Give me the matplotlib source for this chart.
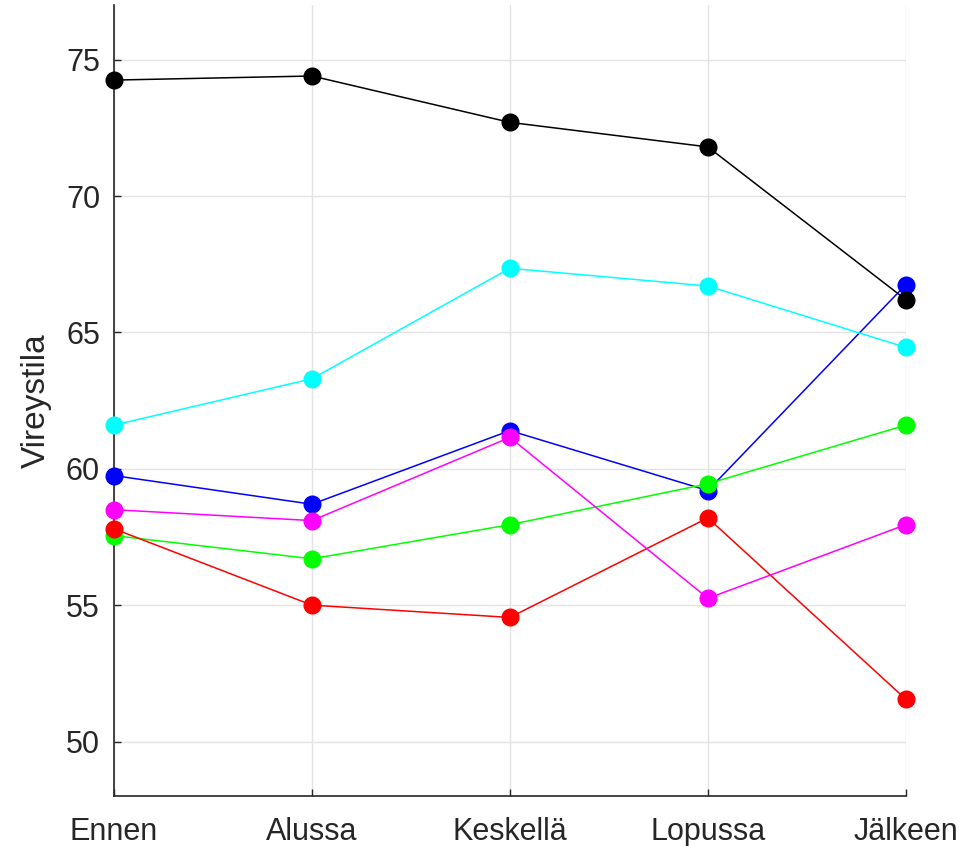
import matplotlib
matplotlib.use("Agg")
import matplotlib.pyplot as plt

# Measurement phases and alertness scores per group
phases = ["Ennen", "Alussa", "Keskellä", "Lopussa", "Jälkeen"]
blue_vals = [59.75, 58.7, 61.4, 59.2, 66.75]
green_vals = [57.55, 56.7, 57.95, 59.45, 61.6]
red_vals = [57.8, 55.0, 54.55, 58.2, 51.55]
cyan_vals = [61.6, 63.3, 67.35, 66.7, 64.45]
magenta_vals = [58.5, 58.1, 61.15, 55.25, 57.95]
black_vals = [74.25, 74.4, 72.7, 71.8, 66.2]

series = [
    (blue_vals, "#0000ff"),
    (green_vals, "#00ff00"),
    (red_vals, "#ff0000"),
    (cyan_vals, "#00ffff"),
    (magenta_vals, "#ff00ff"),
    (black_vals, "#000000"),
]

plt.rcParams["font.family"] = ["Liberation Sans", "DejaVu Sans"]

fig = plt.figure(figsize=(9.74, 8.46), dpi=100)
ax = fig.add_axes([0.117, 0.059, 0.813, 0.935])

x = list(range(1, len(phases) + 1))
for vals, col in series:
    ax.plot(x, vals, color=col, linewidth=1.1, marker="o", markersize=12,
            markerfacecolor=col, markeredgecolor=col, clip_on=False, zorder=3)

ax.set_xlim(1, 5)
ax.set_ylim(48, 77)
ax.set_xticks(x)
ax.set_xticklabels(phases)
ax.set_yticks([50, 55, 60, 65, 70, 75])

ax.grid(True, color="#e3e3e3", linewidth=1.0)
ax.set_axisbelow(True)

for side in ("top", "right"):
    ax.spines[side].set_visible(False)
for side in ("left", "bottom"):
    ax.spines[side].set_color("#262626")
    ax.spines[side].set_linewidth(1.2)

ax.tick_params(axis="both", direction="in", length=5, width=1.0,
               colors="#262626", labelsize=22)
ax.tick_params(axis="x", pad=15)
ax.tick_params(axis="y", pad=10)

ax.set_ylabel("Vireystila", fontsize=24, color="#262626", labelpad=10)

fig.savefig("out.png", dpi=100)
